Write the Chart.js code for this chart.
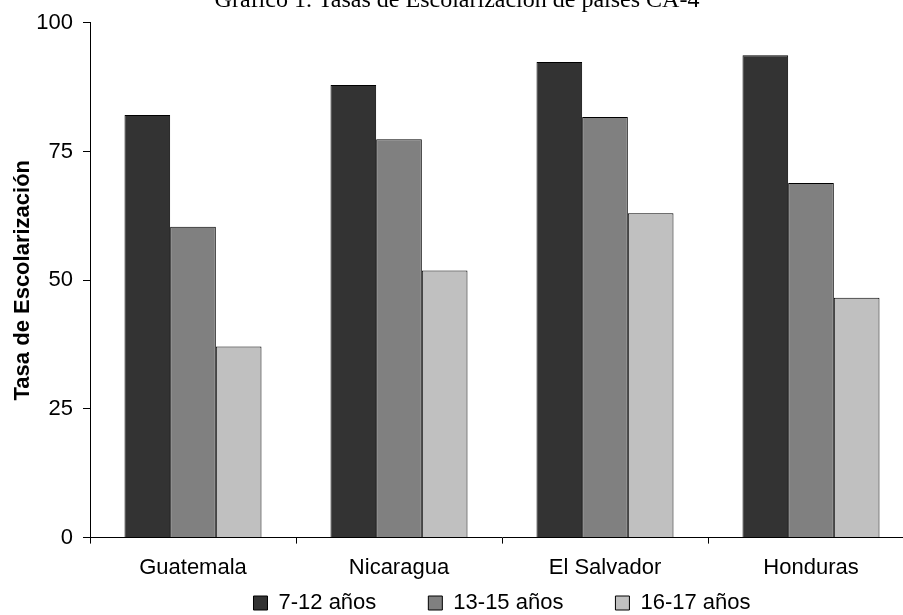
<!DOCTYPE html>
<html>
<head>
<meta charset="utf-8">
<script src="https://cdn.jsdelivr.net/npm/chart.js@4"></script>
<style>
  html, body { margin: 0; padding: 0; width: 903px; height: 615px; overflow: hidden; background: #fff; position: relative; }
  #chart { position: absolute; left: 0; top: -14px; }
</style>
</head>
<body>
<canvas id="chart" width="914" height="638"></canvas>
<script>
const paises = ['Guatemala', 'Nicaragua', 'El Salvador', 'Honduras'];
const edad7a12 = [82.1, 87.9, 92.4, 93.7];
const edad13a15 = [60.4, 77.4, 81.7, 68.9];
const edad16a17 = [37.1, 51.9, 63.0, 46.6];
const yTicks = [0, 25, 50, 75, 100];

Chart.defaults.font.family = '"Liberation Sans", Arial, sans-serif';
Chart.defaults.color = '#000';

const LEGEND_PAD = 52;

// the wide item spacing also pads the legend vertically, so reserve less room
// for it in the layout and then put it back at the bottom of the canvas
const legendDown = {
    id: 'legendDown',
    afterLayout(chart) {
        const lg = chart.legend;
        const full = 22 + LEGEND_PAD + 10;
        lg.top = chart.height - full;
        lg.bottom = chart.height;
        lg.height = full;
    }
};

const chart = new Chart(document.getElementById('chart'), {
    type: 'bar',
    data: {
        labels: paises,
        datasets: [
            { label: '7-12 años', data: edad7a12, backgroundColor: '#333333' },
            { label: '13-15 años', data: edad13a15, backgroundColor: '#808080' },
            { label: '16-17 años', data: edad16a17, backgroundColor: '#c0c0c0' }
        ]
    },
    options: {
        responsive: false,
        animation: false,
        layout: { padding: 0 },
        datasets: {
            bar: {
                borderColor: '#000',
                borderWidth: 1,
                categoryPercentage: 0.665,
                barPercentage: 1.0
            }
        },
        plugins: {
            tooltip: { enabled: false },
            title: {
                display: true,
                text: 'Gráfico 1. Tasas de Escolarización de países CA-4',
                font: { family: '"Liberation Serif", serif', size: 24, weight: 'normal' },
                padding: { top: 0, bottom: 8 }
            },
            legend: {
                position: 'bottom',
                fullSize: false,
                maxHeight: 32,
                labels: {
                    boxWidth: 14,
                    boxHeight: 14,
                    padding: LEGEND_PAD,
                    font: { size: 22 }
                }
            }
        },
        scales: {
            x: {
                grid: { drawOnChartArea: false, color: '#000', tickLength: 6 },
                border: { color: '#000' },
                ticks: { padding: 11, font: { size: 22 } }
            },
            y: {
                min: 0,
                max: 100,
                grid: { drawOnChartArea: false, color: '#000', tickLength: 7 },
                border: { color: '#000' },
                ticks: { padding: 10, font: { size: 22 } },
                afterBuildTicks: (s) => { s.ticks = yTicks.map(v => ({ value: v })); },
                afterFit: (s) => { s.width = 90; },
                title: {
                    display: true,
                    text: 'Tasa de Escolarización',
                    font: { size: 22, weight: 'bold' },
                    padding: { top: 10, bottom: 0 }
                }
            }
        }
    },
    plugins: [legendDown]
});
</script>
</body>
</html>
